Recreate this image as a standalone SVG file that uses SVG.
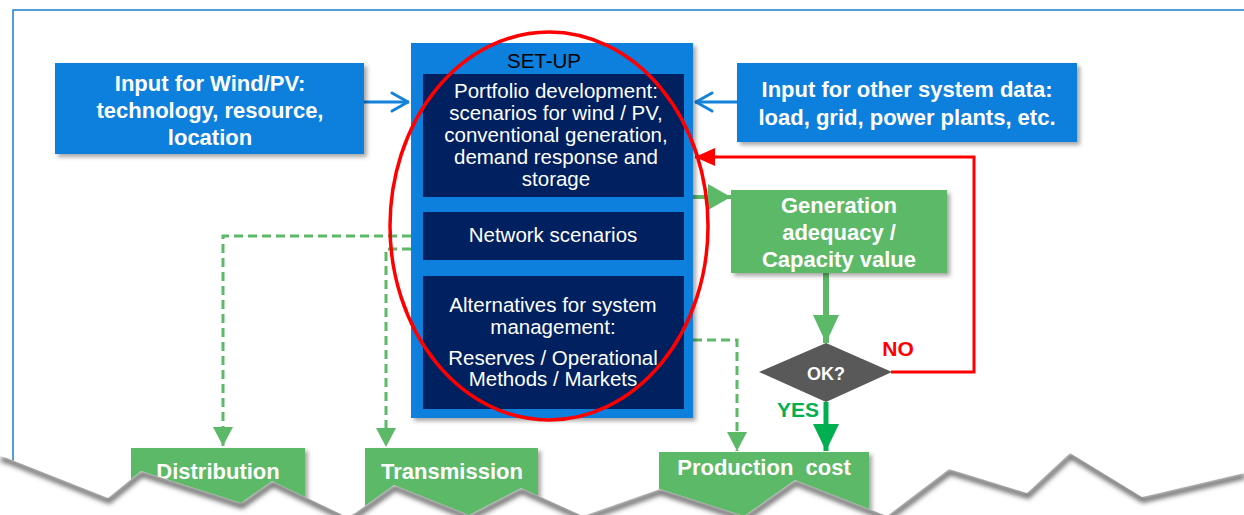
<svg xmlns="http://www.w3.org/2000/svg" width="1244" height="515" viewBox="0 0 1244 515">
<style>
  .bt { font-family: "Liberation Sans", Arial, sans-serif; font-weight: bold; fill: #ffffff; text-anchor: middle; }
  .nt { font-family: "Liberation Sans", Arial, sans-serif; fill: #ffffff; text-anchor: middle; font-size: 20.5px; }
  .blue { fill: #0A7FDD; }
  .navy { fill: #002060; }
  .green { fill: #5CB968; }
  .dash { fill: none; stroke: #5CB968; stroke-width: 3; stroke-dasharray: 9 5; }
</style>
<defs>
  <filter id="sh" x="-10%" y="-10%" width="130%" height="130%">
    <feDropShadow dx="3" dy="3" stdDeviation="2" flood-color="#000" flood-opacity="0.35"/>
  </filter>
  <filter id="blur" x="-5%" y="-50%" width="110%" height="200%">
    <feGaussianBlur stdDeviation="2.5"/>
  </filter>
  <marker id="chev" viewBox="-20 -12 22 24" markerWidth="22" markerHeight="24" refX="0" refY="0" orient="auto" markerUnits="userSpaceOnUse">
    <path d="M-17,-9 L-1,0 L-17,9" fill="none" stroke="#1382DC" stroke-width="3" stroke-linecap="round" stroke-linejoin="round"/>
  </marker>
  <marker id="redTri" viewBox="-21 -10 22 20" markerWidth="22" markerHeight="20" refX="0" refY="0" orient="auto" markerUnits="userSpaceOnUse">
    <path d="M0,0 L-20,-9 L-20,9 Z" fill="#FF0000"/>
  </marker>
  <marker id="gTri" viewBox="-24 -14 25 28" markerWidth="25" markerHeight="28" refX="0" refY="0" orient="auto" markerUnits="userSpaceOnUse">
    <path d="M0,0 L-23,-13 L-23,13 Z" fill="#5CB968"/>
  </marker>
  <marker id="gTri2" viewBox="-29 -14 30 28" markerWidth="30" markerHeight="28" refX="0" refY="0" orient="auto" markerUnits="userSpaceOnUse">
    <path d="M0,0 L-28,-13 L-28,13 Z" fill="#5CB968"/>
  </marker>
  <marker id="dgTri" viewBox="-28 -14 29 28" markerWidth="29" markerHeight="28" refX="0" refY="0" orient="auto" markerUnits="userSpaceOnUse">
    <path d="M0,0 L-27,-13 L-27,13 Z" fill="#00B050"/>
  </marker>
  <marker id="dTri" viewBox="-20 -11 21 22" markerWidth="21" markerHeight="22" refX="0" refY="0" orient="auto" markerUnits="userSpaceOnUse">
    <path d="M0,0 L-19,-10 L-19,10 Z" fill="#5CB968"/>
  </marker>
  <clipPath id="tearClip">
    <path d="M0,456 L7,458 L108,498 L141,471 L241,503 L272,481 L347,517 L355,513 L394,485 L469,515 L521,488 L583,516 L660,489 L744,516 L795,480 L887,516 L949,469 L1027,493 L1070,453 L1142,497 L1244,473 L1244,515 L0,515 Z"/>
  </clipPath>
</defs>

<rect width="1244" height="515" fill="#ffffff"/>
<!-- frame -->
<path d="M13,470 L13,10 L1250,10" fill="none" stroke="#1E7FD0" stroke-width="1.5"/>

<!-- connectors -->
<g id="connectors">
  <line x1="364" y1="102" x2="409" y2="102" stroke="#1382DC" stroke-width="3" marker-end="url(#chev)"/>
  <line x1="737" y1="102" x2="695" y2="102" stroke="#1382DC" stroke-width="3" marker-end="url(#chev)"/>
  <polyline points="891,372 974,372 974,157 695,157" fill="none" stroke="#FF0000" stroke-width="3" marker-end="url(#redTri)"/>
  <line x1="693" y1="197" x2="731" y2="197" stroke="#5CB968" stroke-width="4" marker-end="url(#gTri)"/>
  <line x1="826" y1="273" x2="826" y2="343" stroke="#5CB968" stroke-width="6" marker-end="url(#gTri2)"/>
  <line x1="826" y1="402" x2="826" y2="451" stroke="#00B050" stroke-width="5" marker-end="url(#dgTri)"/>
  <polyline class="dash" points="411,236 223,236 223,446" marker-end="url(#dTri)"/>
  <polyline class="dash" points="411,249 386,249 386,447" marker-end="url(#dTri)"/>
  <polyline class="dash" points="693,340 737,340 737,451" marker-end="url(#dTri)"/>
</g>

<g id="wind-input">
  <rect class="blue" x="55" y="63" width="309" height="91" filter="url(#sh)"/>
  <text class="bt" font-size="22" x="210" y="91">Input for Wind/PV:</text>
  <text class="bt" font-size="22" x="210" y="118">technology, resource,</text>
  <text class="bt" font-size="22" x="210" y="145">location</text>
</g>

<g id="other-input">
  <rect class="blue" x="737" y="63" width="340" height="79" filter="url(#sh)"/>
  <text class="bt" font-size="22" x="907" y="97">Input for other system data:</text>
  <text class="bt" font-size="22" x="907" y="125">load, grid, power plants, etc.</text>
</g>

<g id="setup">
  <rect class="blue" x="411" y="43" width="282" height="375" filter="url(#sh)"/>
  <text x="544" y="68" font-family="Liberation Sans, Arial, sans-serif" font-size="20.5" fill="#000000" text-anchor="middle">SET-UP</text>
  <g id="portfolio">
    <rect class="navy" x="423" y="74" width="261" height="123"/>
    <text class="nt" x="556" y="98">Portfolio development:</text>
    <text class="nt" x="556" y="120">scenarios for wind / PV,</text>
    <text class="nt" x="556" y="142">conventional generation,</text>
    <text class="nt" x="556" y="164">demand response and</text>
    <text class="nt" x="556" y="186">storage</text>
  </g>
  <g id="network">
    <rect class="navy" x="423" y="212" width="261" height="48"/>
    <text class="nt" x="553" y="242">Network scenarios</text>
  </g>
  <g id="alternatives">
    <rect class="navy" x="423" y="276" width="261" height="133"/>
    <text class="nt" x="553" y="312">Alternatives for system</text>
    <text class="nt" x="553" y="334">management:</text>
    <text class="nt" x="553" y="365">Reserves / Operational</text>
    <text class="nt" x="553" y="386">Methods / Markets</text>
  </g>
</g>

<g id="generation">
  <rect class="green" x="731" y="190" width="216" height="83" filter="url(#sh)"/>
  <text class="bt" font-size="22" x="839" y="213">Generation</text>
  <text class="bt" font-size="22" x="839" y="240">adequacy /</text>
  <text class="bt" font-size="22" x="839" y="267">Capacity value</text>
</g>

<g id="ok">
  <polygon points="759,372 826,343 892,372 826,402" fill="#595959"/>
  <text class="bt" font-size="18" x="826" y="380">OK?</text>
</g>
<text x="898" y="356" font-family="Liberation Sans, Arial, sans-serif" font-weight="bold" font-size="21" fill="#FF0000" text-anchor="middle">NO</text>
<text x="798" y="417" font-family="Liberation Sans, Arial, sans-serif" font-weight="bold" font-size="21" fill="#00B050" text-anchor="middle">YES</text>

<g id="distribution">
  <rect class="green" x="131" y="448" width="174" height="67" filter="url(#sh)"/>
  <text class="bt" font-size="22" x="218" y="479">Distribution</text>
</g>
<g id="transmission">
  <rect class="green" x="365" y="448" width="173" height="67" filter="url(#sh)"/>
  <text class="bt" font-size="22" x="452" y="479">Transmission</text>
</g>
<g id="production">
  <rect class="green" x="659" y="452" width="210" height="63" filter="url(#sh)"/>
  <text class="bt" font-size="22" x="764" y="475" xml:space="preserve" style="white-space:pre">Production  cost</text>
</g>

<!-- red highlight ellipse -->
<ellipse cx="549" cy="226" rx="159" ry="194" fill="none" stroke="#FF0000" stroke-width="3.5"/>

<!-- torn edge -->
<g id="tear">
  <path d="M0,456 L7,458 L108,498 L141,471 L241,503 L272,481 L347,517 L355,513 L394,485 L469,515 L521,488 L583,516 L660,489 L744,516 L795,480 L887,516 L949,469 L1027,493 L1070,453 L1142,497 L1244,473 L1244,515 L0,515 Z" fill="#ffffff"/>
  <g clip-path="url(#tearClip)">
    <polyline points="0,456 7,458 108,498 141,471 241,503 272,481 347,517 355,513 394,485 469,515 521,488 583,516 660,489 744,516 795,480 887,516 949,469 1027,493 1070,453 1142,497 1244,473" fill="none" stroke="#5E5E5E" stroke-width="5" transform="translate(1,3)" filter="url(#blur)"/>
  </g>
</g>
</svg>
